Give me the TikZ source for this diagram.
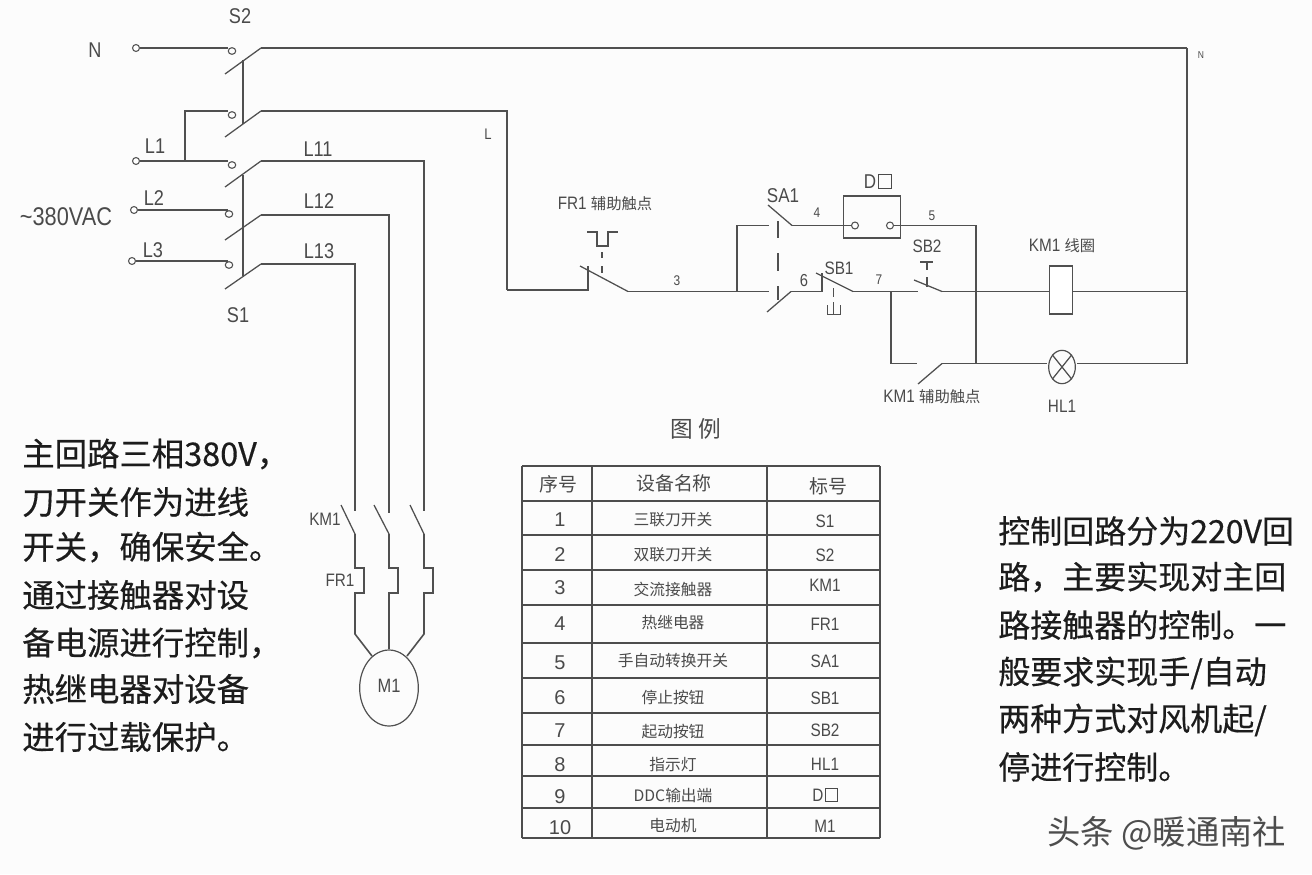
\documentclass[tikz,border=0pt]{standalone}
\usepackage{fontspec}
\setmainfont{Liberation Sans}
\newfontfamily\cad[FakeStretch=0.85]{Liberation Sans}
\newfontfamily\cjk{Noto Sans CJK SC}
\newfontfamily\cjkb[FakeBold=0.4]{Noto Sans CJK SC}
\definecolor{cline}{HTML}{505050}
\definecolor{ctext}{HTML}{4A4A4A}
\definecolor{cbody}{HTML}{1C1C1C}
\definecolor{ctable}{HTML}{4D4D4D}
\newcommand{\dobox}{D\kern0.1em{\setlength{\fboxsep}{0pt}\setlength{\fboxrule}{0.55pt}\raisebox{0.02em}{\fbox{\rule{0.62em}{0pt}\rule{0pt}{0.66em}}}}}
\usetikzlibrary{shapes.geometric}
\tikzset{
  x=0.75pt,y=-0.75pt,
  wire/.style={draw=cline,line width=1.2pt,line join=miter},
  thin wire/.style={draw=cline,line width=0.95pt},
  term/.style={circle,draw=cline,line width=0.8pt,fill=white,inner sep=0pt,minimum size=5.2pt},
  cont/.style={ellipse,draw=cline,line width=0.8pt,inner sep=0pt,minimum width=5.6pt,minimum height=5pt},
  big/.style={inner sep=0pt,text=ctext,font=\cad\fontsize{16}{18}\selectfont},
  mid/.style={inner sep=0pt,text=ctext,font=\cad\fontsize{13.5}{16}\selectfont},
  tiny/.style={inner sep=0pt,text=ctext,font=\cad\fontsize{10.5}{12}\selectfont},
  cn/.style={inner sep=0pt,text=ctext,font=\cjk\fontsize{11.8}{14}\selectfont},
  cnhead/.style={inner sep=0pt,text=ctext,font=\cjk\fontsize{14.2}{16}\selectfont},
  body/.style={inner sep=0pt,anchor=west,text=cbody,font=\cjkb\fontsize{24.3}{28}\selectfont},
  bodyr/.style={body,font=\cjkb\fontsize{24}{28}\selectfont},
  seq/.style={inner sep=0pt,text=ctext,font=\fontsize{15}{17}\selectfont},
}
\begin{document}
\begin{tikzpicture}
\useasboundingbox (0,0) rectangle (1312,874);
\fill[white!99!black] (0,0) rectangle (1312,874);

% ---- terminals and contact circles
\node[term] (tN) at (136,48) {};
\node[term] (tL1) at (136,161) {};
\node[term] (tL2) at (134,210) {};
\node[term] (tL3) at (132,261) {};
\node[cont] (cN) at (232,51) {};
\node[cont] (cLs) at (232,115) {};
\node[cont] (cL1) at (232,165) {};
\node[cont] (cL2) at (229,214) {};
\node[cont] (cL3) at (229,265) {};

% ---- key points
\coordinate (nR) at (1187,48);
\coordinate (lA) at (507,111);
\coordinate (lB) at (507,290);
\coordinate (j1) at (185,161);
\coordinate (j1t) at (185,111);
\foreach \n/\xa/\ya/\yb in {b1/225/74/48,b2/225/137/111,b3/225/187/161,b4/225/240/215,b5/225/289/264}{
  \coordinate (\n s) at (\xa,\ya);
  \coordinate (\n e) at (261,\yb);
}
\coordinate (wN) at (228,48);
\coordinate (wS) at (228,111);
\coordinate (w1) at (228,161);
\coordinate (w2) at (228,210);
\coordinate (w3) at (228,261);
\coordinate (link1a) at (243,60);
\coordinate (link1b) at (243,124);
\coordinate (link2a) at (243,175);
\coordinate (link2b) at (243,276);

% supply side
\draw[wire] (tN) -- (wN);
\draw[wire] (tL1) -- (w1);
\draw[wire] (tL2) -- (w2);
\draw[wire] (tL3) -- (w3);
\draw[wire] (j1) -- (j1t) -- (wS);
\draw[thin wire] (b1s) -- (b1e);
\draw[thin wire] (b2s) -- (b2e);
\draw[thin wire] (b3s) -- (b3e);
\draw[thin wire] (b4s) -- (b4e);
\draw[thin wire] (b5s) -- (b5e);
\draw[wire] (link1a) -- (link1b);
\draw[wire] (link2a) -- (link2b);

% main wires
\coordinate (m1) at (424,161);
\coordinate (m1b) at (424,511);
\coordinate (m2) at (389,215);
\coordinate (m2b) at (389,513);
\coordinate (m3) at (355,264);
\coordinate (m3b) at (355,511);
\draw[wire] (b1e) -- (nR);
\draw[wire] (b2e) -- (lA) -- (lB);
\draw[wire] (b3e) -- (m1) -- (m1b);
\draw[wire] (b4e) -- (m2) -- (m2b);
\draw[wire] (b5e) -- (m3) -- (m3b);

% motor branch
\node[ellipse,draw=cline,line width=0.9pt,minimum width=44pt,minimum height=57pt,inner sep=0pt] (M) at (389,688) {};
\node[big,font=\cad\fontsize{14.5}{16}\selectfont] (lM) at (389,686) {M1};
\draw[thin wire] (341,505) coordinate (k1) -- (355,534) coordinate (k1e);
\draw[thin wire] (374,505) coordinate (k2) -- (389,534) coordinate (k2e);
\draw[thin wire] (410,505) coordinate (k3) -- (424,534) coordinate (k3e);
\draw[wire] (k1e) -- (355,568) -- (364,568) -- (364,593) -- (355,593) -- (355,634) -- (372,656);
\draw[wire] (k2e) -- (389,568) -- (398,568) -- (398,593) -- (389,593) -- (M.north);
\draw[wire] (k3e) -- (424,568) -- (433,568) -- (433,593) -- (424,593) -- (424,634) -- (407,656);

% FR1 aux contact
\coordinate (f1) at (588,290);
\coordinate (f2) at (588,266);
\coordinate (fs) at (580,266);
\coordinate (fe) at (628,291.5);
\coordinate (n1) at (737,291.5);
\coordinate (n1t) at (737,225.5);
\coordinate (n1r) at (769,225.5);
\coordinate (n1s) at (769,291.5);
\draw[wire] (lB) -- (f1) -- (f2);
\draw[thin wire] (fs) -- (fe);
\draw[wire] (fe) -- (n1) -- (n1s);
\draw[wire] (n1) -- (n1t) -- (n1r);
\draw[thin wire] (587,232) -- (597,232) -- (597,246) -- (608,246) -- (608,232) -- (618,232);
\draw[thin wire] (602,252) -- (602,258);
\draw[thin wire] (602,266) -- (602,273);

% SA1
\draw[wire] (778,221) -- (778,238);
\draw[wire] (778,253) -- (778,271);
\draw[wire] (778,286) -- (778,300);
\coordinate (sa1) at (768,205);
\coordinate (sa1e) at (792,225.5);
\coordinate (sa2) at (767,312);
\coordinate (sa2e) at (791,291.5);
\coordinate (sb1a) at (822,291.5);
\coordinate (sb1b) at (822,273);
\coordinate (sb1s) at (816,273);
\coordinate (sb1e) at (853,291.5);
\coordinate (sb2w) at (918,291.5);
\node[term] (d1) at (855,225.5) {};
\node[term] (d2) at (890,225.5) {};
\draw[thin wire] (sa1) -- (sa1e);
\draw[wire] (sa1e) -- (d1);
\draw[thin wire] (sa2) -- (sa2e);
\draw[wire] (sa2e) -- (sb1a) -- (sb1b);
\draw[thin wire] (sb1s) -- (sb1e);
\draw[wire] (sb1e) -- (sb2w);
\draw[thin wire,line width=0.7pt] (833,288) -- (833,297);
\draw[thin wire,line width=0.7pt] (833,302) -- (833,314);
\draw[thin wire,line width=0.7pt] (827,305) -- (827,314) -- (840,314) -- (840,305);

% DO box
\node[draw=cline,line width=0.9pt,minimum width=43pt,minimum height=31.5pt,inner sep=0pt] (DO) at (872,217) {};
\coordinate (c1) at (976,225.5);
\coordinate (c2) at (976,363.5);
\draw[wire] (d2) -- (c1) -- (c2);

% SB2
\coordinate (s2s) at (914,280);
\coordinate (s2e) at (942,291.5);
\draw[thin wire] (s2s) -- (s2e);
\draw[thin wire] (920,262) -- (933,262);
\draw[thin wire] (927,262) -- (927,270);
\draw[thin wire] (927,277) -- (927,287);

% coil
\node[draw=cline,line width=0.9pt,minimum width=17.5pt,minimum height=36pt,inner sep=0pt,fill=white] (coil) at (1061,290) {};
\coordinate (r1) at (1187,291.5);
\draw[wire] (s2e) -- (coil.west |- s2e);
\draw[wire] (coil.east |- r1) -- (r1);

% KM1 aux + lamp
\coordinate (a1) at (891,291.5);
\coordinate (a2) at (891,363.5);
\coordinate (a3) at (917,363.5);
\coordinate (ke) at (942,363.5);
\coordinate (ks) at (918,384);
\coordinate (r2) at (1187,363.5);
\node[circle,draw=cline,line width=0.9pt,inner sep=0pt,minimum size=25pt,xscale=0.8] (lamp) at (1062,367) {};
\draw[thin wire] (lamp.45) -- (lamp.225);
\draw[thin wire] (lamp.135) -- (lamp.315);
\draw[wire] (a1) -- (a2) -- (a3);
\draw[thin wire] (ks) -- (ke);
\draw[wire] (ke) -- (1047,363.5) coordinate (lw);
\draw[wire] (1077,363.5) coordinate (lr) -- (r2);
\draw[wire] (nR) -- (r2);

% ---- labels
\node[big] (tS2) at (240,16) {S2};
\node[big] (tS1) at (238,315) {S1};
\node[big] (tNN) at (95,50) {N};
\node[big] (tl1) at (155,146) {L1};
\node[big] (tl2) at (154,198) {L2};
\node[big] (tl3) at (153,250) {L3};
\node[big] (tl11) at (318,149) {L11};
\node[big] (tl12) at (319,201) {L12};
\node[big] (tl13) at (319,251) {L13};
\node[big,font=\cad\fontsize{19.2}{20}\selectfont] (tac) at (66,217) {\textasciitilde 380VAC};
\node[tiny,font=\cad\fontsize{11.5}{13}\selectfont] (tL) at (488,134) {L};
\node[tiny,font=\cad\fontsize{7.5}{9}\selectfont] (tn) at (1201,55) {N};
\node[mid] (tfr) at (605,204) {FR1 {\cjk\fontsize{11.5}{14}\selectfont 辅助触点}};
\node[big,font=\cad\fontsize{15}{18}\selectfont] (tsa) at (783,196) {SA1};
\node[tiny] (t4) at (817,213) {4};
\node[tiny] (t5) at (932,216) {5};
\node[tiny,font=\cad\fontsize{13}{14}\selectfont] (t6) at (804,281) {6};
\node[tiny] (t7) at (879,280) {7};
\node[tiny] (t3) at (677,281) {3};
\node[big,font=\cad\fontsize{15}{18}\selectfont] (tdo) at (878,181) {\dobox};
\node[mid] (tsb1) at (839,268) {SB1};
\node[mid] (tsb2) at (927,246) {SB2};
\node[mid] (tkc) at (1062,246) {KM1 {\cjk\fontsize{11.5}{14}\selectfont 线圈}};
\node[mid] (tka) at (932,397) {KM1 {\cjk\fontsize{11.5}{14}\selectfont 辅助触点}};
\node[mid] (thl) at (1062,406) {HL1};
\node[mid] (tkm) at (325,519) {KM1};
\node[mid] (tfr2) at (340,580) {FR1};

% ---- legend
\node[cnhead,font=\cjk\fontsize{17}{20}\selectfont] (tleg) at (696,429) {图 例};
\foreach \v in {522,592,767,880}
  \draw[draw=ctable,line width=0.95pt] (\v,466) -- (\v,838);
\foreach \h in {466,501,535,570,605,643,678,713,745,776,808,838}
  \draw[draw=ctable,line width=0.95pt] (522,\h) -- (880,\h);
\node[cnhead] (h1) at (558,484) {序号};
\node[cnhead] (h2) at (674,483) {设备名称};
\node[cnhead] (h3) at (828,486) {标号};
\foreach \i/\ys/\na/\yn/\co/\yc in {
  1/520/三联刀开关/520/S1/521,
  2/555/双联刀开关/555/S2/555,
  3/588/交流接触器/589/KM1/585,
  4/624/热继电器/623/FR1/624,
  5/663/手自动转换开关/661/SA1/661,
  6/698/停止按钮/697/SB1/698,
  7/731/起动按钮/732/SB2/730,
  8/765/指示灯/765/HL1/764,
  9/797/DDC输出端/796/\dobox/795,
  10/828/电动机/826/M1/826}{
  \node[seq] (s\i) at (560,\ys) {\i};
  \node[cn] (n\i) at (673,\yn) {\na};
  \node[mid] (c\i) at (825,\yc) {\co};
}

% ---- text blocks
\node[body] (p1) at (22,454) {主回路三相380V，};
\node[body] (p2) at (22,502) {刀开关作为进线};
\node[body] (p3) at (22,547) {开关，确保安全。};
\node[body] (p4) at (22,595) {通过接触器对设};
\node[body] (p5) at (22,643) {备电源进行控制，};
\node[body] (p6) at (22,689) {热继电器对设备};
\node[body] (p7) at (22,737) {进行过载保护。};
\node[bodyr] (q1) at (998,531) {控制回路分为220V回};
\node[bodyr] (q2) at (998,577) {路，主要实现对主回};
\node[bodyr] (q3) at (998,625) {路接触器的控制。一};
\node[bodyr] (q4) at (998,673) {般要求实现手/自动};
\node[bodyr] (q5) at (998,720) {两种方式对风机起/};
\node[bodyr] (q6) at (998,767) {停进行控制。};
\node[body,text=ctable,font=\cjk\fontsize{25}{28}\selectfont] (wm) at (1047,833) {头条 @暖通南社};
\end{tikzpicture}
\end{document}
